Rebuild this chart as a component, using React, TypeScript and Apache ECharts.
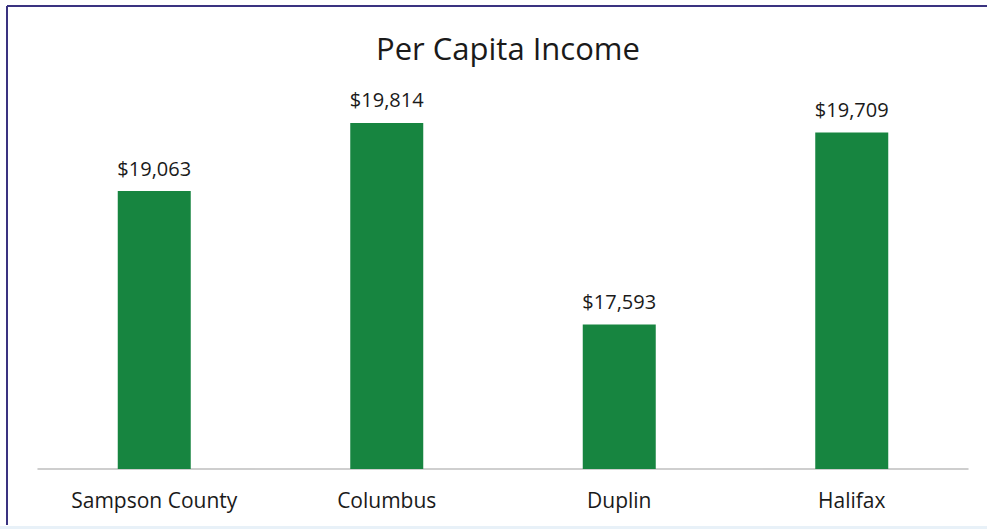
import React, { useEffect, useRef } from "react";
import * as echarts from "echarts";

const categories = ["Sampson County", "Columbus", "Duplin", "Halifax"];
const incomeValues = [19063, 19814, 17593, 19709];
const chartTitle = "Per Capita Income";

const fmt = (v: number) => "$" + v.toLocaleString("en-US");

export default function App() {
  const ref = useRef<HTMLDivElement>(null);
  useEffect(() => {
    if (!ref.current) return;
    const chart = echarts.init(ref.current, null, { renderer: "svg" });
    const font = "'Open Sans', 'Noto Sans', sans-serif";
    chart.setOption({
      animation: false,
      backgroundColor: "#ffffff",
      title: {
        text: chartTitle,
        left: 503,
        textAlign: "center",
        top: 27,
        textStyle: { fontFamily: font, fontSize: 31, fontWeight: "normal", color: "#1a1a1a" },
      },
      grid: { left: 38, right: 19, top: 106, bottom: 60, containLabel: false },
      xAxis: {
        type: "category",
        data: categories,
        axisLine: { show: true, lineStyle: { color: "#bfbfbf", width: 1.5 } },
        axisTick: { show: false },
        axisLabel: { fontFamily: font, fontSize: 21, color: "#1a1a1a", margin: 20 },
      },
      yAxis: {
        type: "value",
        min: 16000,
        max: 20000,
        show: false,
        splitLine: { show: false },
      },
      series: [
        {
          type: "bar",
          data: incomeValues,
          barWidth: 73,
          itemStyle: { color: "#178540" },
          label: {
            show: true,
            position: "top",
            distance: 13,
            formatter: (p: any) => fmt(p.value),
            fontFamily: font,
            fontSize: 20,
            color: "#1a1a1a",
          },
        },
      ],
      graphic: [
        { type: "line", shape: { x1: 7, y1: 6, x2: 987, y2: 6 }, style: { stroke: "#3a3380", lineWidth: 2 } },
        { type: "line", shape: { x1: 7, y1: 6, x2: 7, y2: 525 }, style: { stroke: "#3a3380", lineWidth: 2 } },
        { type: "rect", shape: { x: 0, y: 526, width: 987, height: 3 }, style: { fill: "#e8f1f8" } },
      ],
    });
    return () => chart.dispose();
  }, []);
  return (
    <div
      ref={ref}
      style={{ position: "fixed", left: 0, top: 0, width: 987, height: 529 }}
    />
  );
}
